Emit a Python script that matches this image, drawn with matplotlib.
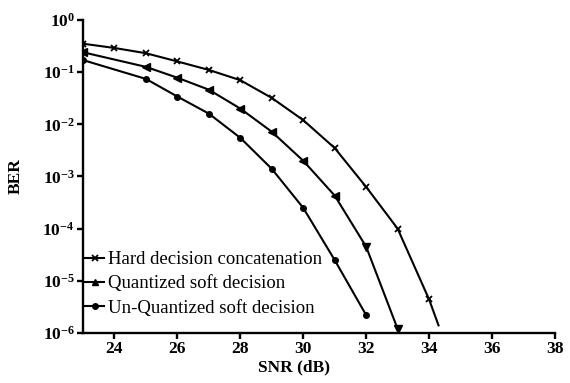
import matplotlib.pyplot as plt
from matplotlib.lines import Line2D

plt.rcParams['font.family'] = ['Liberation Serif', 'DejaVu Serif']
plt.rcParams['mathtext.fontset'] = 'custom'
plt.rcParams['mathtext.rm'] = 'Liberation Serif:bold'
plt.rcParams['mathtext.it'] = 'Liberation Serif:bold'
plt.rcParams['mathtext.bf'] = 'Liberation Serif:bold'

# data
snr_hard = [23, 24, 25, 26, 27, 28, 29, 30, 31, 32, 33, 34, 34.3]
ber_hard = [0.35, 0.29, 0.23, 0.16, 0.11, 0.07, 0.032, 0.012, 0.0035,
            6.3e-4, 1.0e-4, 4.4e-6, 1.4e-6]

snr_quant = [23, 25, 26, 27, 28, 29, 30, 31, 32, 33]
ber_quant = [0.24, 0.126, 0.078, 0.046, 0.020, 0.0072, 0.002, 4.3e-4,
             4.5e-5, 1.2e-6]

snr_unq = [23, 25, 26, 27, 28, 29, 30, 31, 32]
ber_unq = [0.17, 0.074, 0.034, 0.016, 0.0055, 0.0014, 2.5e-4, 2.5e-5, 2.2e-6]

labels = ['Hard decision concatenation', 'Quantized soft decision',
          'Un-Quantized soft decision']

fig = plt.figure(figsize=(5.7, 3.83), dpi=100)
ax = fig.add_axes([0.1456, 0.1305, 0.828, 0.8175])

lw = 1.5
ax.plot(snr_hard[:-1], ber_hard[:-1], color='black', lw=lw, marker='x',
        markersize=5, mew=1.3)
ax.plot(snr_hard[-2:], ber_hard[-2:], color='black', lw=lw)
ax.plot(snr_quant, ber_quant, color='black', lw=lw)
ax.plot(snr_quant[:-2], ber_quant[:-2], ls='none', marker='<', color='black',
        markersize=6)
ax.plot(snr_quant[-2:], ber_quant[-2:], ls='none', marker='v', color='black',
        markersize=6)
ax.plot(snr_unq, ber_unq, color='black', lw=lw, marker='o', markersize=4)

ax.set_yscale('log')
ax.set_xlim(23, 38)
ax.set_ylim(1e-6, 1)
ax.set_xticks([24, 26, 28, 30, 32, 34, 36, 38])
exps = [0, -1, -2, -3, -4, -5, -6]
ax.set_yticks([10.0 ** e for e in exps])
ax.set_yticklabels([r'$10^{%d}$' % e for e in exps])
ax.minorticks_off()

for s in ['top', 'right']:
    ax.spines[s].set_visible(False)
for s in ['left', 'bottom']:
    ax.spines[s].set_linewidth(1.7)
ax.tick_params(width=1.7, length=4, labelsize=12.5, pad=2)
for t in ax.get_xticklabels():
    t.set_fontweight('bold')

ax.set_xlabel('SNR (dB)', fontsize=12.5, fontweight='bold', labelpad=0)
ax.xaxis.set_label_coords(0.447, -0.085)
ax.set_ylabel('BER', fontsize=12.5, fontweight='bold')
ax.yaxis.set_label_coords(-0.125, 0.5)

handles = [
    Line2D([], [], color='black', lw=lw, marker='x', markersize=4, mew=1.3),
    Line2D([], [], color='black', lw=lw, marker='^', markersize=5),
    Line2D([], [], color='black', lw=lw, marker='o', markersize=4),
]
ax.legend(handles, labels, loc='lower left', bbox_to_anchor=(0.005, 0.052),
          frameon=False, fontsize=13.5, handlelength=1.0, handletextpad=0.2,
          labelspacing=0.38, borderpad=0, borderaxespad=0)

fig.savefig('out.png', dpi=100)
